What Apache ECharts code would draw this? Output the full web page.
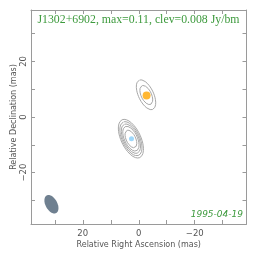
<!DOCTYPE html>
<html><head><meta charset="utf-8">
<script src="https://cdn.jsdelivr.net/npm/echarts@6/dist/echarts.min.js"></script>
<style>html,body{margin:0;padding:0;background:#fff}#c{width:264px;height:262px}</style>
</head><body><div id="c"></div>
<script>
// Component positions (mas)
const compX = [-2.8, 2.6];
const compY = [7.7, -7.85];
const compColor = ['#ffa500', '#87cefa'];
const compSize = [8, 5];
// Contours (ellipse params, mas / degrees)
const contCx = [-2.6, -2.7, 2.8, 2.8, 2.8, 2.8, 2.8];
const contCy = [8.0, 7.9, -7.8, -7.8, -7.8, -7.8, -7.9];
const contMajor = [5.8, 3.7, 7.5, 6.6, 5.7, 4.8, 3.4];
const contMinor = [2.7, 1.85, 3.5, 3.1, 2.7, 2.3, 1.7];
const contAngle = [25, 25, 25, 25, 25, 25, 25];
// Beam
const beamX = 31.2, beamY = -31.4, beamMajor = 3.6, beamMinor = 2.1, beamAngle = 28;
// Ticks
const tickVals = [-30, -20, -10, 0, 10, 20, 30];
const labelVals = [-20, 0, 20];
const title = 'J1302+6902, max=0.11, clev=0.008 Jy/bm';
const dateText = '1995-04-19';

function ellipse(cx, cy, a, b, angDeg, n) {
  const t = angDeg * Math.PI / 180;
  const ux = Math.sin(t), uy = Math.cos(t);
  const vx = Math.cos(t), vy = -Math.sin(t);
  const pts = [];
  for (let i = 0; i <= n; i++) {
    const p = 2 * Math.PI * i / n;
    pts.push([cx + a * Math.cos(p) * ux + b * Math.sin(p) * vx,
              cy + a * Math.cos(p) * uy + b * Math.sin(p) * vy]);
  }
  return pts;
}

const gray = '#9a9a9a';
const fmt = v => String(v).replace('-', '\u2212');
function axisBase(extra) {
  return Object.assign({
    type: 'value', min: -38.5, max: 38.5,
    axisLine: { show: true, onZero: false, lineStyle: { color: gray, width: 1 } },
    axisTick: { show: true, inside: true, length: 4, customValues: tickVals, lineStyle: { color: gray } },
    splitLine: { show: false },
    axisLabel: { show: false }
  }, extra);
}

const series = [];
for (let i = 0; i < contCx.length; i++) {
  series.push({
    type: 'line', xAxisIndex: 0, yAxisIndex: 0, silent: true, symbol: 'none',
    lineStyle: { color: '#a8a8a8', width: 1 },
    data: ellipse(contCx[i], contCy[i], contMajor[i], contMinor[i], contAngle[i], 90)
  });
}
series.push({
  type: 'custom', xAxisIndex: 0, yAxisIndex: 0, silent: true,
  data: [[beamX, beamY]],
  renderItem: function (params, api) {
    const pts = ellipse(beamX, beamY, beamMajor, beamMinor, beamAngle, 60).map(p => api.coord(p));
    return { type: 'polygon', shape: { points: pts }, style: { fill: '#6f8090' } };
  }
});
for (let i = 0; i < compX.length; i++) {
  series.push({
    type: 'scatter', xAxisIndex: 0, yAxisIndex: 0, silent: true,
    symbolSize: compSize[i], itemStyle: { color: compColor[i] },
    data: [[compX[i], compY[i]]]
  });
}

const chart = echarts.init(document.getElementById('c'), null, { renderer: 'canvas' });
chart.setOption({
  animation: false,
  backgroundColor: '#fff',
  grid: { left: 31, top: 10, right: 17.5, bottom: 38, containLabel: false, outerBoundsMode: 'none' },
  title: [
    { text: title, left: 138.5, top: 14, textAlign: 'center', padding: 0,
      textStyle: { fontFamily: 'Liberation Serif', fontSize: 11.8, fontWeight: 'normal', color: '#3d9a3d' } },
    { text: dateText, left: 243, top: 210, textAlign: 'right', padding: 0,
      textStyle: { fontFamily: 'DejaVu Sans', fontStyle: 'italic', fontSize: 9, fontWeight: 'normal', color: '#3d9a3d' } }
  ],
  xAxis: [
    axisBase({ position: 'bottom', inverse: true,
      name: 'Relative Right Ascension (mas)', nameLocation: 'middle', nameGap: 17, nameMoveOverlap: false,
      nameTextStyle: { fontFamily: 'DejaVu Sans', fontSize: 8, color: '#555' },
      axisLabel: { show: true, customValues: labelVals, formatter: fmt, margin: 5,
        fontFamily: 'DejaVu Sans', fontSize: 8.5, color: '#555' } }),
    axisBase({ position: 'top', inverse: true })
  ],
  yAxis: [
    axisBase({ position: 'left',
      name: 'Relative Declination (mas)', nameLocation: 'middle', nameGap: 13, nameMoveOverlap: false,
      nameTextStyle: { fontFamily: 'DejaVu Sans', fontSize: 8, color: '#555' },
      axisLabel: { show: true, customValues: labelVals, formatter: fmt, rotate: 90, margin: 3,
        fontFamily: 'DejaVu Sans', fontSize: 8.5, color: '#555' } }),
    axisBase({ position: 'right' })
  ],
  series: series
});
</script></body></html>
